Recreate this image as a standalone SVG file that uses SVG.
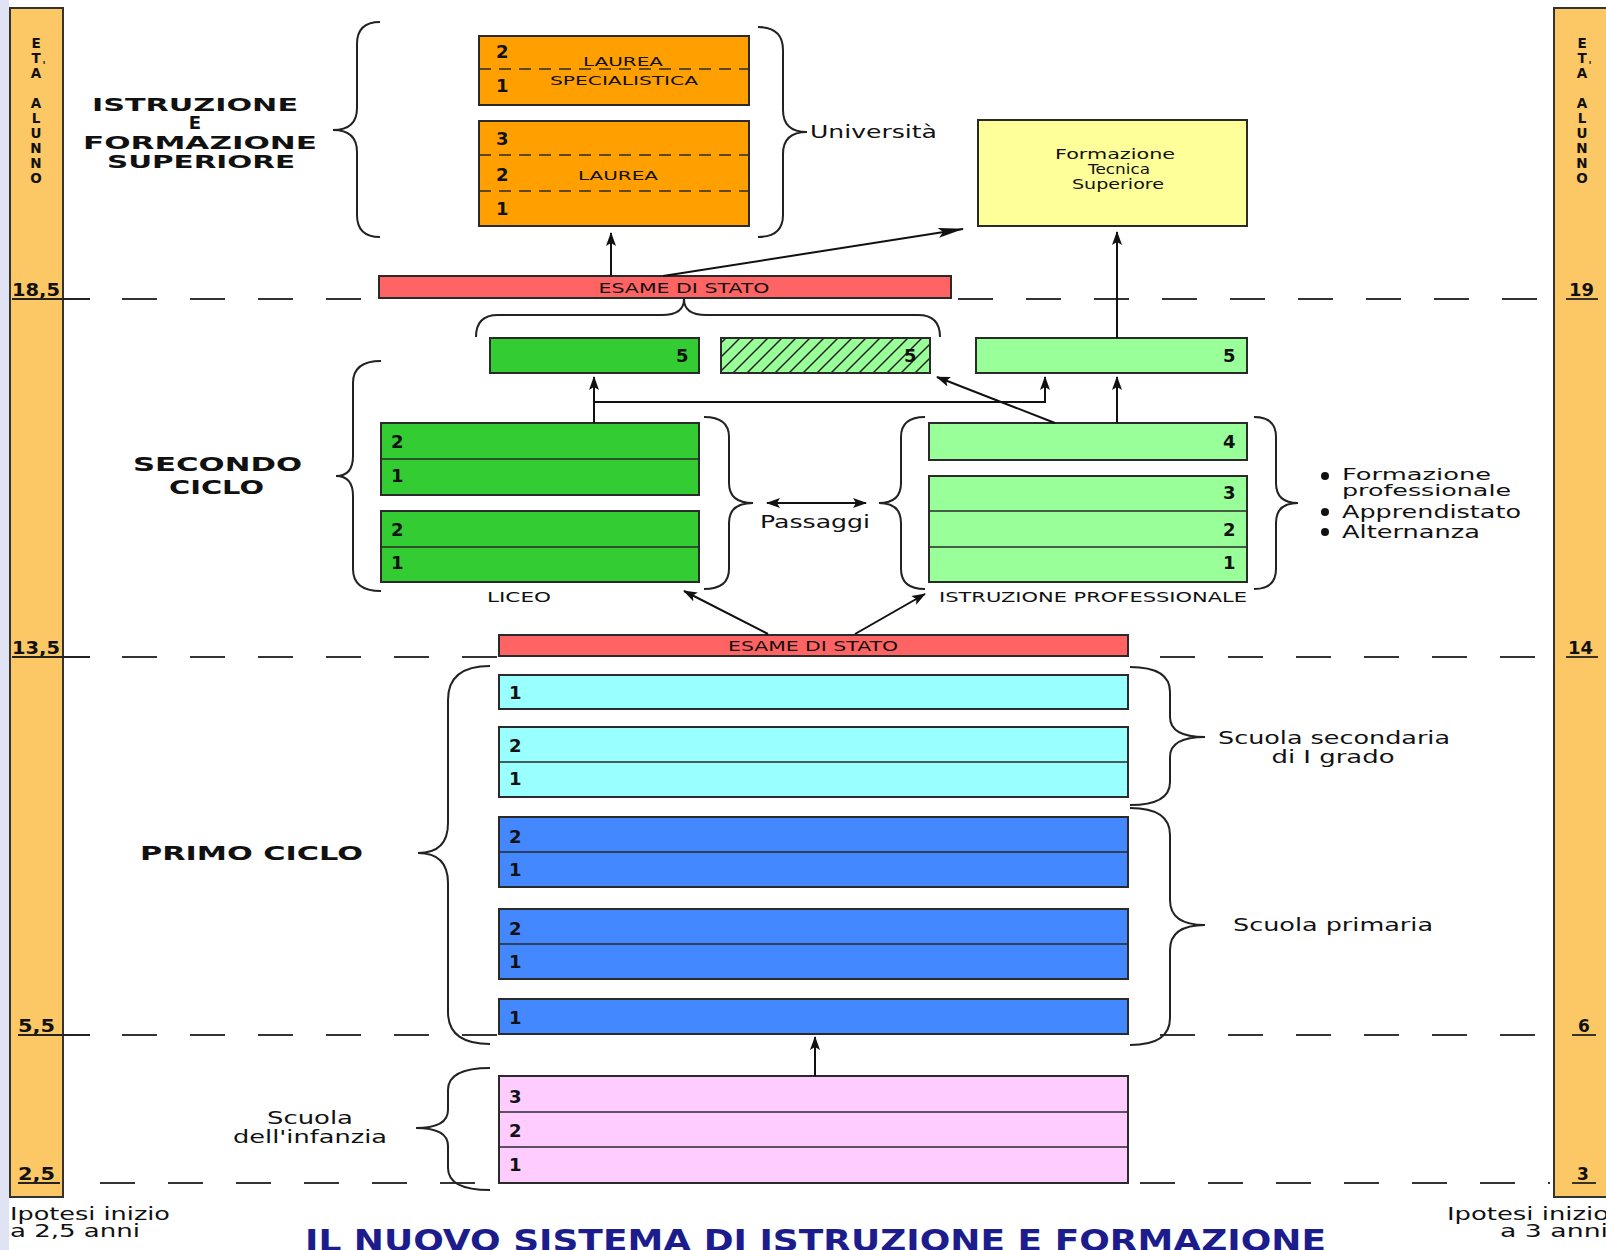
<svg xmlns="http://www.w3.org/2000/svg" width="1606" height="1250" viewBox="0 0 1606 1250">
<style>
text{font-family:"DejaVu Sans","Liberation Sans",sans-serif;fill:#111}
.b{font-weight:bold}
.box{stroke:#2a2a2a;stroke-width:2}
.div{stroke:#2a2a2a;stroke-width:1.6;fill:none}
.dsh{stroke:#2a2a2a;stroke-width:1.6;stroke-dasharray:12 8;fill:none}
.brace{fill:none;stroke:#222;stroke-width:2}
.age{stroke:#333;stroke-width:2;stroke-dasharray:35 33;fill:none}
.con{stroke:#111;stroke-width:2;fill:none}
.num{font-size:18px;font-weight:bold}
.lbl{font-size:18px}
.big{font-size:20px;font-weight:bold}
.sup{font-size:18px;font-weight:bold}
.vert{font-size:13.5px;font-weight:bold;text-anchor:middle}
.agen{font-size:17px;font-weight:bold}
.ul{stroke:#222;stroke-width:1.8}
</style>
<defs>
<marker id="ah" viewBox="0 0 14 10" refX="13" refY="5" markerWidth="14" markerHeight="10" markerUnits="userSpaceOnUse" orient="auto-start-reverse">
<path d="M0,0 L14,5 L0,10 L3,5 Z" fill="#111"/>
</marker>
<marker id="ahl" viewBox="0 0 26 10" refX="25" refY="5" markerWidth="26" markerHeight="10" markerUnits="userSpaceOnUse" orient="auto">
<path d="M0,0 L26,5 L0,10 L5,5 Z" fill="#111"/>
</marker>
<pattern id="hatch" patternUnits="userSpaceOnUse" width="14" height="14">
<path d="M-2,16 L16,-2 M-2,2 L2,-2 M12,16 L16,12" stroke="#222" stroke-width="1.5"/>
</pattern>
</defs>
<rect x="0" y="0" width="1606" height="1250" fill="#ffffff"/>
<rect x="0" y="0" width="9" height="1250" fill="#dfe3f3"/>

<!-- age bars -->
<g id="age-left">
<rect x="10" y="8" width="53" height="1189" fill="#fcc765" stroke="#333" stroke-width="2"/>
<text class="vert" x="36" y="48">E</text>
<text class="vert" x="36" y="63">T</text>
<text class="vert" x="36" y="78">A</text>
<text class="vert" x="44" y="69" style="font-size:10px">'</text>
<text class="vert" x="36" y="108">A</text>
<text class="vert" x="36" y="123">L</text>
<text class="vert" x="36" y="138">U</text>
<text class="vert" x="36" y="153">N</text>
<text class="vert" x="36" y="168">N</text>
<text class="vert" x="36" y="183">O</text>
<text class="agen" x="12" y="296" textLength="48" lengthAdjust="spacingAndGlyphs">18,5</text>
<text class="agen" x="12" y="654" textLength="48" lengthAdjust="spacingAndGlyphs">13,5</text>
<text class="agen" x="18" y="1032" textLength="37" lengthAdjust="spacingAndGlyphs">5,5</text>
<text class="agen" x="18" y="1180" textLength="37" lengthAdjust="spacingAndGlyphs">2,5</text>
</g>
<g id="age-right">
<rect x="1554" y="8" width="60" height="1189" fill="#fcc765" stroke="#333" stroke-width="2"/>
<text class="vert" x="1582" y="48">E</text>
<text class="vert" x="1582" y="63">T</text>
<text class="vert" x="1582" y="78">A</text>
<text class="vert" x="1590" y="69" style="font-size:10px">'</text>
<text class="vert" x="1582" y="108">A</text>
<text class="vert" x="1582" y="123">L</text>
<text class="vert" x="1582" y="138">U</text>
<text class="vert" x="1582" y="153">N</text>
<text class="vert" x="1582" y="168">N</text>
<text class="vert" x="1582" y="183">O</text>
<text class="agen" x="1569" y="296" textLength="25" lengthAdjust="spacingAndGlyphs">19</text>
<text class="agen" x="1568" y="654" textLength="25" lengthAdjust="spacingAndGlyphs">14</text>
<text class="agen" x="1578" y="1032">6</text>
<text class="agen" x="1577" y="1180">3</text>
<line class="ul" x1="1566" y1="299" x2="1598" y2="299"/>
<line class="ul" x1="1566" y1="657" x2="1598" y2="657"/>
<line class="ul" x1="1572" y1="1035" x2="1596" y2="1035"/>
<line class="ul" x1="1572" y1="1183" x2="1596" y2="1183"/>
</g>

<!-- age dashed lines -->
<g id="age-lines">
<line class="ul" x1="12" y1="299" x2="90" y2="299"/>
<line class="age" x1="122" y1="299" x2="379" y2="299"/>
<line class="age" x1="958" y1="299" x2="1550" y2="299"/>
<line class="ul" x1="12" y1="657" x2="90" y2="657"/>
<line class="age" x1="122" y1="657" x2="499" y2="657"/>
<line class="age" x1="1160" y1="657" x2="1550" y2="657"/>
<line class="ul" x1="18" y1="1035" x2="90" y2="1035"/>
<line class="age" x1="122" y1="1035" x2="499" y2="1035"/>
<line class="age" x1="1160" y1="1035" x2="1550" y2="1035"/>
<line class="ul" x1="18" y1="1183" x2="60" y2="1183"/>
<line class="age" x1="100" y1="1183" x2="499" y2="1183"/>
<line class="age" x1="1140" y1="1183" x2="1550" y2="1183"/>
</g>

<!-- section titles -->
<g id="title-superiore">
<text class="sup" x="92" y="111" textLength="206" lengthAdjust="spacingAndGlyphs">ISTRUZIONE</text>
<text class="sup" x="195" y="129" text-anchor="middle">E</text>
<text class="sup" x="83" y="149" textLength="234" lengthAdjust="spacingAndGlyphs">FORMAZIONE</text>
<text class="sup" x="107" y="168" textLength="188" lengthAdjust="spacingAndGlyphs">SUPERIORE</text>
</g>
<g id="title-secondo">
<text class="big" x="133" y="471" textLength="169" lengthAdjust="spacingAndGlyphs">SECONDO</text>
<text class="big" x="169" y="494" textLength="95" lengthAdjust="spacingAndGlyphs">CICLO</text>
</g>
<g id="title-primo">
<text class="big" x="140" y="860" textLength="223" lengthAdjust="spacingAndGlyphs">PRIMO CICLO</text>
</g>

<!-- braces -->
<g id="braces">
<path class="brace" d="M380,22 Q357,22 357,44 L357,108 Q357,130 333,130 Q357,130 357,152 L357,215 Q357,237 380,237"/>
<path class="brace" d="M758,27 Q783,27 783,50 L783,110 Q783,132 807,132 Q783,132 783,154 L783,215 Q783,237 758,237"/>
<path class="brace" d="M476,337 Q476,315 498,315 L662,315 Q684,315 684,299 Q684,315 706,315 L918,315 Q940,315 940,337"/>
<path class="brace" d="M381,361 Q353,361 353,383 L353,456 Q353,476 336,476 Q353,476 353,496 L353,569 Q353,591 381,591"/>
<path class="brace" d="M704,417 Q729,417 729,437 L729,483 Q729,503 753,503 Q729,503 729,523 L729,569 Q729,589 704,589"/>
<path class="brace" d="M925,417 Q901,417 901,437 L901,483 Q901,503 879,503 Q901,503 901,523 L901,569 Q901,589 925,589"/>
<path class="brace" d="M1254,417 Q1276,417 1276,437 L1276,483 Q1276,503 1298,503 Q1276,503 1276,523 L1276,569 Q1276,589 1254,589"/>
<path class="brace" d="M490,666 Q448,666 448,700 L448,823 Q448,853 418,853 Q448,853 448,883 L448,1012 Q448,1044 490,1044"/>
<path class="brace" d="M490,1068 Q448,1068 448,1090 L448,1110 Q448,1128 416,1128 Q448,1128 448,1146 L448,1168 Q448,1190 490,1190"/>
<path class="brace" d="M1130,667 Q1170,667 1170,692 L1170,717 Q1170,737 1205,737 Q1170,737 1170,757 L1170,782 Q1170,805 1130,805"/>
<path class="brace" d="M1130,808 Q1170,808 1170,835 L1170,900 Q1170,925 1205,925 Q1170,925 1170,950 L1170,1018 Q1170,1045 1130,1045"/>
</g>

<!-- university -->
<g id="laurea-specialistica">
<rect class="box" x="479" y="36" width="270" height="69" fill="#ffa000"/>
<line class="dsh" x1="479" y1="69" x2="749" y2="69"/>
<text class="num" x="496" y="58">2</text>
<text class="num" x="496" y="92">1</text>
<text x="623" y="66" text-anchor="middle" style="font-size:13px" textLength="80" lengthAdjust="spacingAndGlyphs">LAUREA</text>
<text x="624" y="85" text-anchor="middle" style="font-size:13px" textLength="148" lengthAdjust="spacingAndGlyphs">SPECIALISTICA</text>
</g>
<g id="laurea">
<rect class="box" x="479" y="121" width="270" height="105" fill="#ffa000"/>
<line class="dsh" x1="479" y1="155" x2="749" y2="155"/>
<line class="dsh" x1="479" y1="191" x2="749" y2="191"/>
<text class="num" x="496" y="145">3</text>
<text class="num" x="496" y="181">2</text>
<text class="num" x="496" y="215">1</text>
<text x="618" y="180" text-anchor="middle" style="font-size:13px" textLength="80" lengthAdjust="spacingAndGlyphs">LAUREA</text>
</g>
<g id="universita-label">
<text class="lbl" x="810" y="138" textLength="127" lengthAdjust="spacingAndGlyphs">Università</text>
</g>
<g id="fts">
<rect class="box" x="978" y="120" width="269" height="106" fill="#ffff99"/>
<text x="1115" y="159" text-anchor="middle" style="font-size:14px" textLength="120" lengthAdjust="spacingAndGlyphs">Formazione</text>
<text x="1119" y="174" text-anchor="middle" style="font-size:14px" textLength="62" lengthAdjust="spacingAndGlyphs">Tecnica</text>
<text x="1118" y="189" text-anchor="middle" style="font-size:14px" textLength="92" lengthAdjust="spacingAndGlyphs">Superiore</text>
</g>

<g id="esame-stato-2">
<rect class="box" x="379" y="276" width="572" height="22" fill="#ff6464"/>
<text x="684" y="293" text-anchor="middle" style="font-size:14px" textLength="171" lengthAdjust="spacingAndGlyphs">ESAME DI STATO</text>
</g>

<!-- secondo ciclo 5th years -->
<g id="liceo-5">
<rect class="box" x="490" y="338" width="209" height="35" fill="#33cc33"/>
<text class="num" x="676" y="362">5</text>
</g>
<g id="ponte-5">
<rect x="721" y="338" width="209" height="35" fill="#99ff99"/>
<rect x="721" y="338" width="209" height="35" fill="url(#hatch)"/>
<rect x="721" y="338" width="209" height="35" fill="none" class="box"/>
<text class="num" x="904" y="362">5</text>
</g>
<g id="ip-5">
<rect class="box" x="976" y="338" width="271" height="35" fill="#99ff99"/>
<text class="num" x="1223" y="362">5</text>
</g>

<g id="liceo">
<rect class="box" x="381" y="423" width="318" height="72" fill="#33cc33"/>
<line class="div" x1="381" y1="459" x2="699" y2="459"/>
<rect class="box" x="381" y="511" width="318" height="71" fill="#33cc33"/>
<line class="div" x1="381" y1="547" x2="699" y2="547"/>
<text class="num" x="391" y="448">2</text>
<text class="num" x="391" y="482">1</text>
<text class="num" x="391" y="536">2</text>
<text class="num" x="391" y="569">1</text>
<text x="519" y="602" text-anchor="middle" style="font-size:14px" textLength="64" lengthAdjust="spacingAndGlyphs">LICEO</text>
</g>
<g id="istruzione-professionale">
<rect class="box" x="929" y="423" width="318" height="37" fill="#99ff99"/>
<rect class="box" x="929" y="476" width="318" height="106" fill="#99ff99"/>
<line class="div" x1="929" y1="511" x2="1247" y2="511"/>
<line class="div" x1="929" y1="547" x2="1247" y2="547"/>
<text class="num" x="1223" y="448">4</text>
<text class="num" x="1223" y="499">3</text>
<text class="num" x="1223" y="536">2</text>
<text class="num" x="1223" y="569">1</text>
<text x="1093" y="602" text-anchor="middle" style="font-size:14px" textLength="308" lengthAdjust="spacingAndGlyphs">ISTRUZIONE PROFESSIONALE</text>
</g>
<g id="passaggi-label">
<text class="lbl" x="760" y="528" textLength="110" lengthAdjust="spacingAndGlyphs">Passaggi</text>
</g>
<g id="options">
<circle cx="1325" cy="476" r="4" fill="#111"/>
<text class="lbl" x="1342" y="480" style="font-size:16px" textLength="149" lengthAdjust="spacingAndGlyphs">Formazione</text>
<text class="lbl" x="1342" y="496" style="font-size:16px" textLength="169" lengthAdjust="spacingAndGlyphs">professionale</text>
<circle cx="1325" cy="512" r="4" fill="#111"/>
<text class="lbl" x="1342" y="518" textLength="179" lengthAdjust="spacingAndGlyphs">Apprendistato</text>
<circle cx="1325" cy="532" r="4" fill="#111"/>
<text class="lbl" x="1342" y="538" textLength="138" lengthAdjust="spacingAndGlyphs">Alternanza</text>
</g>

<g id="esame-stato-1">
<rect class="box" x="499" y="635" width="629" height="21" fill="#ff6464"/>
<text x="813" y="651" text-anchor="middle" style="font-size:14px" textLength="170" lengthAdjust="spacingAndGlyphs">ESAME DI STATO</text>
</g>

<!-- primo ciclo -->
<g id="secondaria-1">
<rect class="box" x="499" y="675" width="629" height="34" fill="#99ffff"/>
<rect class="box" x="499" y="727" width="629" height="70" fill="#99ffff"/>
<line class="div" x1="499" y1="762" x2="1128" y2="762"/>
<text class="num" x="509" y="699">1</text>
<text class="num" x="509" y="752">2</text>
<text class="num" x="509" y="785">1</text>
</g>
<g id="primaria">
<rect class="box" x="499" y="817" width="629" height="70" fill="#4488ff"/>
<line class="div" x1="499" y1="852" x2="1128" y2="852"/>
<rect class="box" x="499" y="909" width="629" height="70" fill="#4488ff"/>
<line class="div" x1="499" y1="944" x2="1128" y2="944"/>
<rect class="box" x="499" y="999" width="629" height="35" fill="#4488ff"/>
<text class="num" x="509" y="843">2</text>
<text class="num" x="509" y="876">1</text>
<text class="num" x="509" y="935">2</text>
<text class="num" x="509" y="968">1</text>
<text class="num" x="509" y="1024">1</text>
</g>
<g id="infanzia">
<rect class="box" x="499" y="1076" width="629" height="107" fill="#ffccff"/>
<line class="div" x1="499" y1="1112" x2="1128" y2="1112"/>
<line class="div" x1="499" y1="1147" x2="1128" y2="1147"/>
<text class="num" x="509" y="1103">3</text>
<text class="num" x="509" y="1137">2</text>
<text class="num" x="509" y="1171">1</text>
</g>
<g id="primo-labels">
<text class="lbl" x="1218" y="744" textLength="232" lengthAdjust="spacingAndGlyphs">Scuola secondaria</text>
<text class="lbl" x="1333" y="763" text-anchor="middle" textLength="123" lengthAdjust="spacingAndGlyphs">di I grado</text>
<text class="lbl" x="1233" y="931" textLength="200" lengthAdjust="spacingAndGlyphs">Scuola primaria</text>
<text class="lbl" x="310" y="1124" text-anchor="middle" textLength="86" lengthAdjust="spacingAndGlyphs">Scuola</text>
<text class="lbl" x="310" y="1143" text-anchor="middle" textLength="154" lengthAdjust="spacingAndGlyphs">dell'infanzia</text>
</g>

<!-- connectors -->
<g id="connectors">
<line class="con" x1="611" y1="276" x2="611" y2="233" marker-end="url(#ah)"/>
<line class="con" x1="663" y1="276" x2="963" y2="229" marker-end="url(#ahl)"/>
<line class="con" x1="1117" y1="338" x2="1117" y2="232" marker-end="url(#ah)"/>
<line class="con" x1="594" y1="423" x2="594" y2="377" marker-end="url(#ah)"/>
<path class="con" d="M594,402 L1045,402 L1045,377" marker-end="url(#ah)"/>
<line class="con" x1="1055" y1="423" x2="937" y2="377" marker-end="url(#ah)"/>
<line class="con" x1="1117" y1="423" x2="1117" y2="377" marker-end="url(#ah)"/>
<line class="con" x1="767" y1="503" x2="866" y2="503" marker-start="url(#ah)" marker-end="url(#ah)"/>
<line class="con" x1="768" y1="634" x2="684" y2="591" marker-end="url(#ah)"/>
<line class="con" x1="855" y1="634" x2="925" y2="594" marker-end="url(#ah)"/>
<line class="con" x1="815" y1="1076" x2="815" y2="1037" stroke="#444" marker-end="url(#ah)"/>
</g>

<g id="footer">
<text x="10" y="1220" style="font-size:17px" textLength="160" lengthAdjust="spacingAndGlyphs">Ipotesi inizio</text>
<text x="10" y="1237" style="font-size:17px" textLength="130" lengthAdjust="spacingAndGlyphs">a 2,5 anni</text>
<text x="1447" y="1220" style="font-size:17px" textLength="162" lengthAdjust="spacingAndGlyphs">Ipotesi inizio</text>
<text x="1500" y="1237" style="font-size:17px" textLength="108" lengthAdjust="spacingAndGlyphs">a 3 anni</text>
<text x="305" y="1251" class="b" style="font-size:30px;fill:#1c1c8c" textLength="1021" lengthAdjust="spacingAndGlyphs">IL NUOVO SISTEMA DI ISTRUZIONE E FORMAZIONE</text>
</g>
</svg>
